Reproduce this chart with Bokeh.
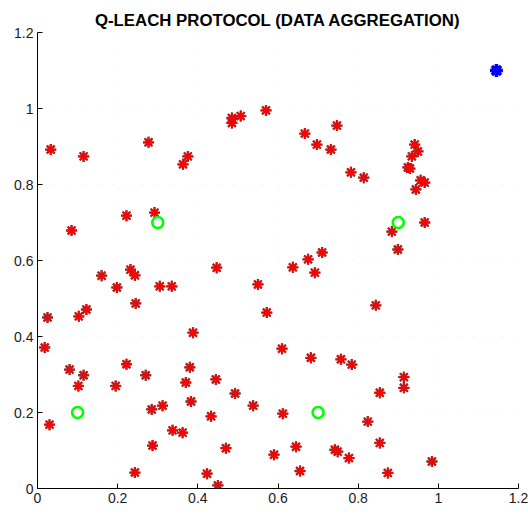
from bokeh.plotting import figure
from bokeh.models import FixedTicker, Title
from bokeh.embed import file_html
from bokeh.resources import INLINE

# --- data ---
node_x = [0.033, 0.115, 0.277, 0.363, 0.375, 0.485, 0.485, 0.507, 0.57, 0.667,
          0.747, 0.697, 0.732, 0.782, 0.814, 0.941, 0.949, 0.934, 0.924, 0.929,
          0.956, 0.966, 0.944, 0.884, 0.966, 0.899, 0.222, 0.292, 0.085, 0.16,
          0.198, 0.232, 0.243, 0.305, 0.335, 0.245, 0.447, 0.55, 0.71, 0.675,
          0.637, 0.692, 0.844, 0.572, 0.025, 0.103, 0.122, 0.018, 0.388, 0.08,
          0.115, 0.102, 0.03, 0.222, 0.27, 0.195, 0.38, 0.37, 0.383, 0.445,
          0.493, 0.538, 0.285, 0.312, 0.433, 0.337, 0.362, 0.287, 0.47, 0.243,
          0.423, 0.45, 0.61, 0.682, 0.757, 0.784, 0.914, 0.914, 0.854, 0.612,
          0.824, 0.645, 0.854, 0.59, 0.742, 0.749, 0.777, 0.655, 0.874, 0.984]
node_y = [0.892, 0.874, 0.911, 0.853, 0.874, 0.975, 0.962, 0.98, 0.995, 0.934,
          0.955, 0.905, 0.892, 0.832, 0.818, 0.905, 0.887, 0.874, 0.845, 0.842,
          0.811, 0.805, 0.787, 0.676, 0.7, 0.629, 0.718, 0.726, 0.679, 0.56,
          0.529, 0.576, 0.561, 0.532, 0.532, 0.487, 0.581, 0.537, 0.621, 0.603,
          0.582, 0.568, 0.482, 0.463, 0.45, 0.453, 0.471, 0.371, 0.41, 0.313,
          0.298, 0.27, 0.168, 0.327, 0.298, 0.27, 0.319, 0.279, 0.229, 0.287,
          0.25, 0.218, 0.208, 0.218, 0.19, 0.153, 0.147, 0.113, 0.106, 0.042,
          0.039, 0.008, 0.368, 0.344, 0.34, 0.326, 0.293, 0.265, 0.252, 0.197,
          0.176, 0.11, 0.12, 0.089, 0.102, 0.097, 0.08, 0.046, 0.041, 0.071]

head_x = [0.3, 0.9, 0.1, 0.7]
head_y = [0.7, 0.7, 0.2, 0.2]

sink_x = [1.145]
sink_y = [1.1]

tick_values = [0, 0.2, 0.4, 0.6, 0.8, 1.0, 1.2]
tick_labels = ["0", "0.2", "0.4", "0.6", "0.8", "1", "1.2"]

p = figure(width=528, height=520, x_range=(0, 1.2), y_range=(0, 1.2),
           output_backend="svg", toolbar_location=None,
           min_border_left=37, min_border_right=10, min_border_bottom=32,
           min_border_top=32)
p.title = Title(text="Q-LEACH PROTOCOL (DATA AGGREGATION)", align="center",
                text_font="Liberation Sans", text_font_size="16.8px",
                text_font_style="bold", text_color="black", offset=0,
                standoff=5)
p.outline_line_color = None
p.background_fill_color = "white"
p.border_fill_color = "white"

for ax in (p.xaxis, p.yaxis):
    ax.ticker = FixedTicker(ticks=tick_values)
    ax.major_label_overrides = {v: s for v, s in zip(tick_values, tick_labels)}
    ax.major_tick_in = 5
    ax.major_tick_out = 0
    ax.minor_tick_line_color = None
    ax.axis_line_color = "black"
    ax.major_tick_line_color = "black"
    ax.major_label_text_font = "Liberation Sans"
    ax.major_label_text_font_size = "14px"
    ax.major_label_text_color = "#1a1a1a"
    ax.major_label_standoff = 4

p.xgrid.ticker = FixedTicker(ticks=tick_values)
p.ygrid.ticker = FixedTicker(ticks=tick_values)
p.grid.grid_line_color = "#dddddd"
p.grid.grid_line_dash = "1 14"
p.grid.grid_line_alpha = 0.6

# sensor nodes: red asterisks with dark edges
p.scatter(node_x, node_y, marker="asterisk", size=11, line_color="black",
          line_width=2.3, line_alpha=0.7)
p.scatter(node_x, node_y, marker="asterisk", size=11, line_color="red",
          line_width=1.7)

# cluster heads: green circles
p.scatter(head_x, head_y, marker="circle", size=11, fill_color=None,
          line_color="#00ff00", line_width=2.6)

# sink: blue star
p.scatter(sink_x, sink_y, marker="asterisk", size=13, line_color="blue",
          line_width=3.5)
p.scatter(sink_x, sink_y, marker="circle", size=9, fill_color="blue",
          line_color="blue")

open("out.html", "w").write(file_html(p, INLINE))
